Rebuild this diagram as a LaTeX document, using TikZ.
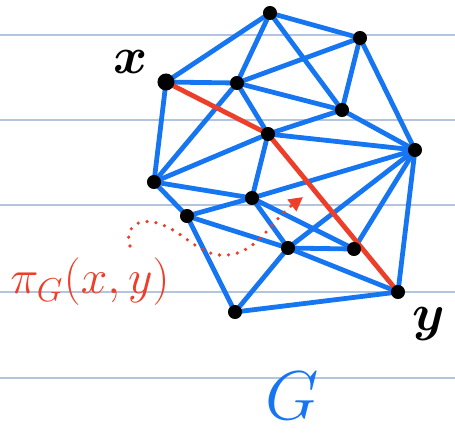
\documentclass[tikz,border=0pt]{standalone}
\usepackage{amsmath}
\usetikzlibrary{
    arrows.meta,
    backgrounds
}

\definecolor{edgeblue}{RGB}{22,117,240}
\definecolor{pathred}{RGB}{236,62,40}
\definecolor{rule}{RGB}{178,196,222}

\begin{document}
\begin{tikzpicture}[
    x=0.5pt, y=-0.5pt,
    dot/.style={
        circle,
        draw=black,
        fill=black,
        line width=1pt,
        inner sep=0pt,
        minimum size=6pt
    },
    edge/.style={draw=edgeblue, line width=2.4pt, line cap=round},
    shortest/.style={draw=pathred, line width=2.4pt, line cap=round},
    label/.style={inner sep=0pt, font=\fontsize{17}{17}\selectfont}
]

\useasboundingbox (0,0) rectangle (455,436);

% ============================================================
% VERTICES
% ============================================================

\node[dot] (a) at (270,13) {};
\node[dot] (b) at (360,38) {};
\node[dot, minimum size=7.5pt] (x) at (166,82) {};
\node[dot] (c) at (237,83) {};
\node[dot] (d) at (342,110) {};
\node[dot] (e) at (268,134) {};
\node[dot] (f) at (415,150) {};
\node[dot] (g) at (154,182) {};
\node[dot] (h) at (252,198) {};
\node[dot] (i) at (187,216) {};
\node[dot] (j) at (288,248) {};
\node[dot] (k) at (354,249) {};
\node[dot] (y) at (398,292) {};
\node[dot] (l) at (235,312) {};

% ============================================================
% LABELS
% ============================================================

\node[label, scale=1.5] (xl) at (131,62) {$\boldsymbol{x}$};
\node[label, scale=1.5] (yl) at (429,324) {$\boldsymbol{y}$};
\node[label, text=pathred, scale=1.38] (pl) at (90,282) {$\pi_G(x,y)$};
\node[label, text=edgeblue, scale=2.0] (gl) at (292,396) {$G$};

\coordinate (cs) at (130,246);
\coordinate (ce) at (303,197);

% ============================================================
% EDGES
% ============================================================

\begin{scope}[on background layer]
\foreach \r in {35,120,205,292,378} {
    \draw[rule, line width=0.8pt] (0,\r) -- (455,\r);
}

\foreach \u/\v in {a/b, a/x, a/c, a/d, b/c, b/d, b/f,
                   x/c, x/g, c/d, c/e, c/g, d/e, d/f,
                   e/f, e/g, e/h, g/h, g/i, h/i, h/f,
                   h/j, h/k, i/j, i/l, j/k, j/f, j/y,
                   j/l, k/f, f/y, l/y} {
    \draw[edge] (\u) -- (\v);
}

\draw[shortest] (x.center) -- (e.center) -- (y.center);
\end{scope}

\draw[pathred, line width=1.8pt, dash pattern=on 0pt off 4.5pt, line cap=round,
    -{Triangle[length=7pt, width=7pt]}]
    (cs) .. controls (124,228) and (138,216) .. (160,224)
    .. controls (185,232) and (200,258) .. (228,255)
    .. controls (258,252) and (270,222) .. (ce);

\end{tikzpicture}
\end{document}
